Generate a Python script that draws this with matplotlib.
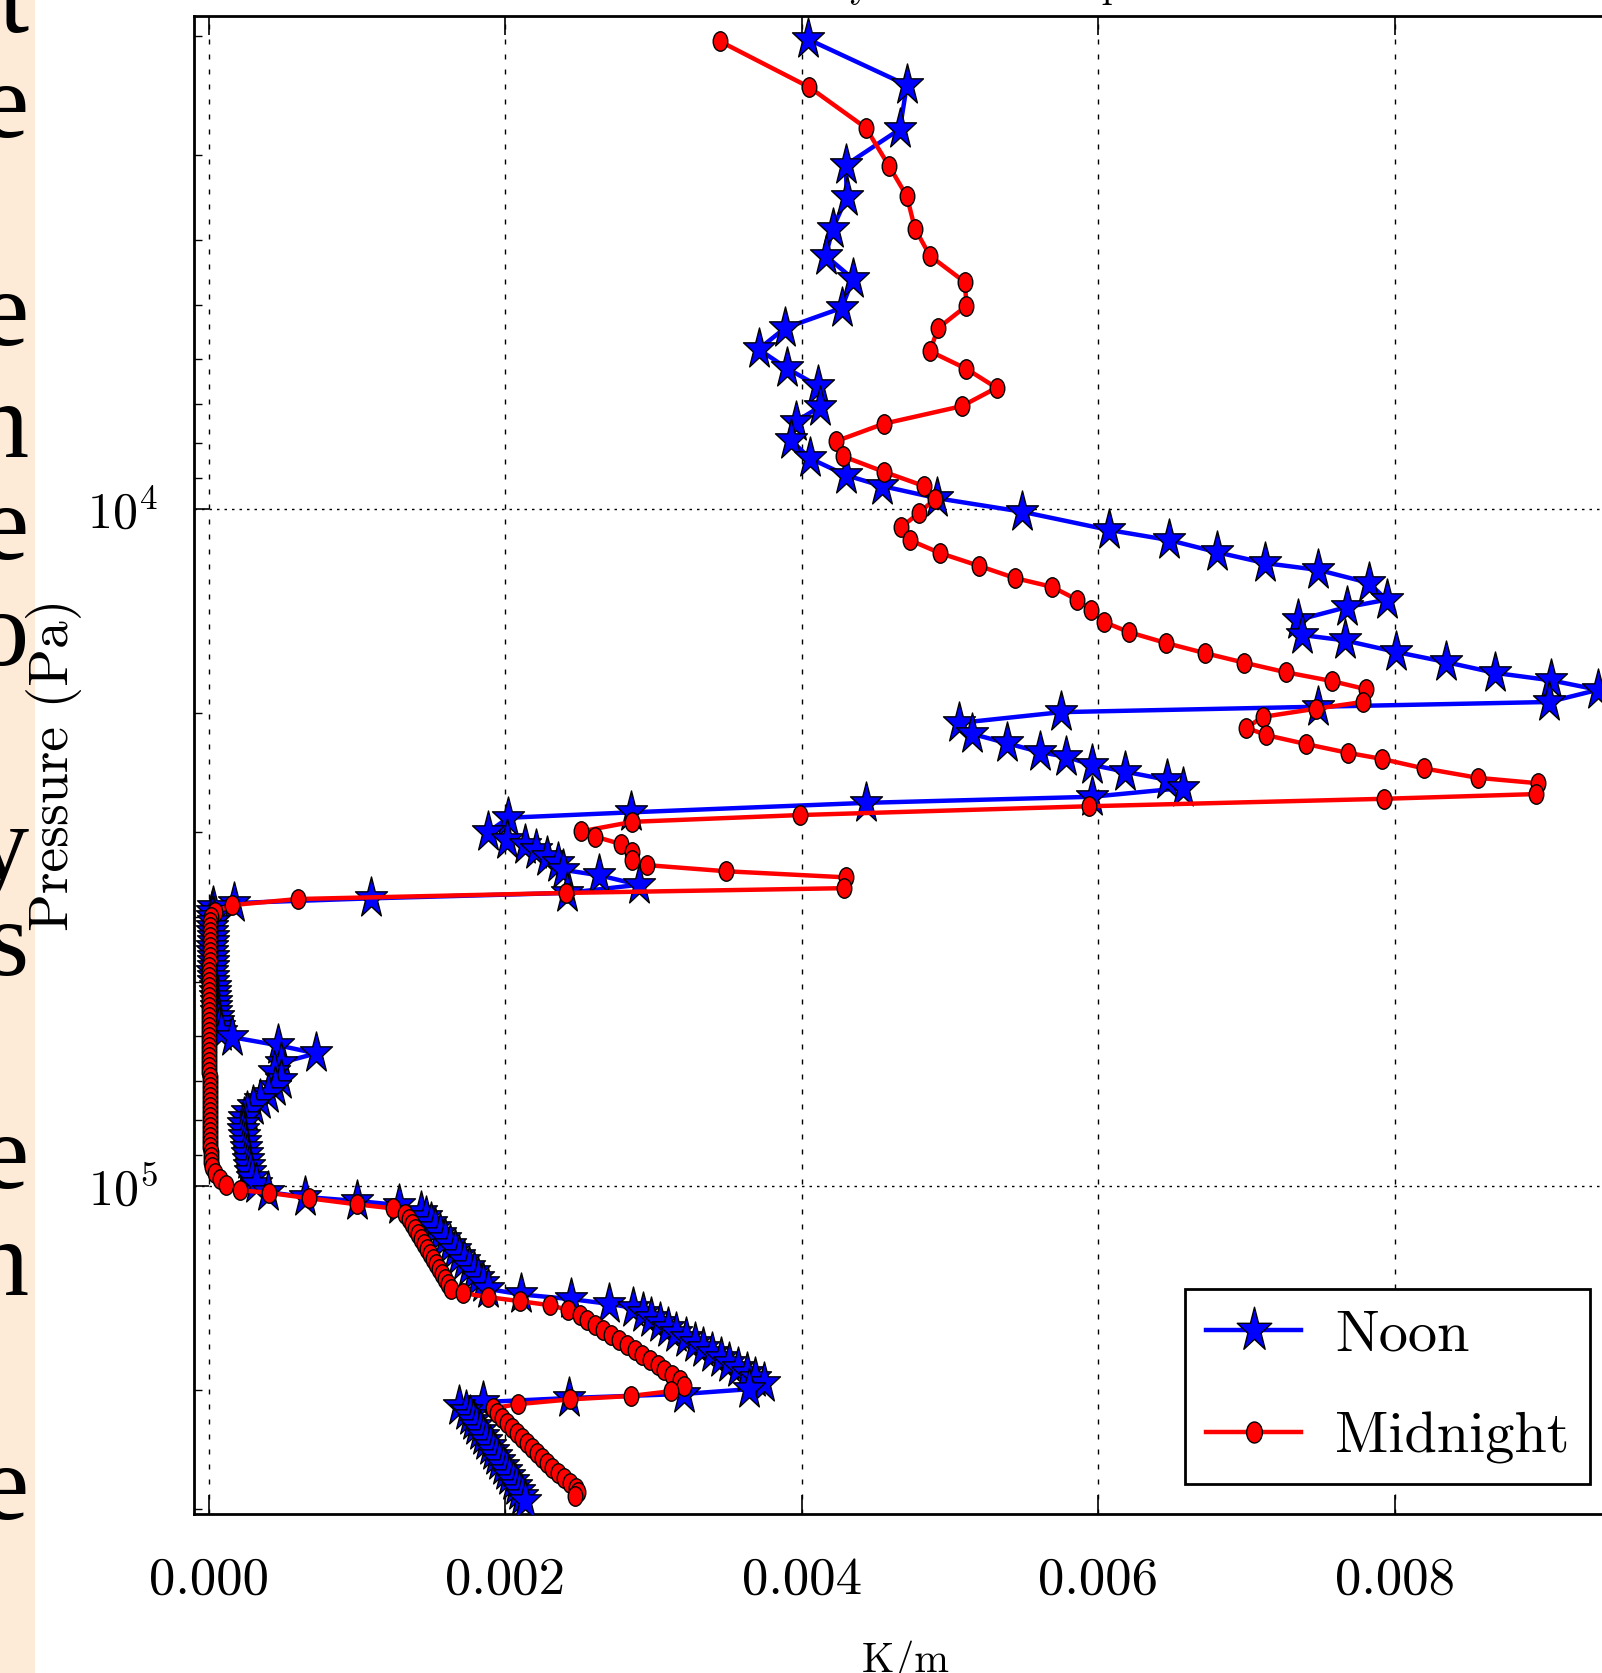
import matplotlib
matplotlib.use("Agg")
import matplotlib.pyplot as plt
import numpy as np
from matplotlib.patches import Rectangle
from matplotlib.path import Path
from matplotlib.ticker import FixedLocator, FormatStrFormatter, LogLocator, NullFormatter

plt.rcParams["font.family"] = "cmr10"
plt.rcParams["font.serif"] = ["Liberation Serif", "DejaVu Serif"]
plt.rcParams["mathtext.fontset"] = "cm"
plt.rcParams["axes.formatter.use_mathtext"] = True

# ---- data (x in K/m, pressure stored as log10(Pa)) ----
noon_x_upper = [
    0.004041, 0.004709, 0.004662, 0.004297, 0.004304, 0.004209, 0.004162, 0.004345, 0.004270, 0.003885,
    0.003709, 0.003899, 0.004108, 0.004122, 0.003959, 0.003926, 0.004054, 0.004297, 0.004541, 0.004912,
    0.005486, 0.006074, 0.006480, 0.006804, 0.007128, 0.007486, 0.007824, 0.007946, 0.007676, 0.007345,
    0.007372, 0.007662, 0.008007, 0.008345, 0.008676, 0.009054, 0.009372, 0.009041, 0.007480, 0.005750,
    0.005061, 0.005149, 0.005385, 0.005608, 0.005784, 0.005959, 0.006182, 0.006466, 0.006574, 0.005959,
    0.004432, 0.002845, 0.002020, 0.001885, 0.002014, 0.002135, 0.002209, 0.002284, 0.002358, 0.002392,
    0.002635, 0.002899, 0.002419, 0.001095, 0.000169, 0.000027,
]
noon_logp_upper = [
    3.306, 3.374, 3.439, 3.492, 3.539, 3.586, 3.626, 3.660, 3.703, 3.733,
    3.764, 3.792, 3.818, 3.849, 3.871, 3.898, 3.925, 3.950, 3.966, 3.984,
    4.004, 4.031, 4.046, 4.064, 4.080, 4.090, 4.109, 4.134, 4.145, 4.164,
    4.186, 4.194, 4.211, 4.226, 4.242, 4.253, 4.267, 4.285, 4.292, 4.300,
    4.316, 4.332, 4.346, 4.359, 4.366, 4.378, 4.388, 4.400, 4.412, 4.425,
    4.434, 4.448, 4.456, 4.477, 4.489, 4.496, 4.504, 4.514, 4.523, 4.533,
    4.541, 4.555, 4.567, 4.575, 4.582, 4.588,
]
noon_x_lower = [
    0.00002, 0.00002, 0.00003, 0.00002, 0.00002, 0.00003, 0.00003, 0.00002, 0.00002, 0.00003,
    0.00003, 0.00003, 0.00002, 0.00003, 0.00003, 0.00004, 0.00004, 0.00004, 0.00005, 0.00005,
    0.00005, 0.00006, 0.00006, 0.00007, 0.00008,
    0.000155, 0.000466, 0.000723, 0.000486, 0.000439, 0.000486, 0.000446, 0.000399, 0.000345, 0.000297,
    0.000257, 0.000236, 0.000230, 0.000230, 0.000236, 0.000243, 0.000250, 0.000257, 0.000264, 0.000270,
    0.000277, 0.000291, 0.000318, 0.000399, 0.000649, 0.001000, 0.001284,
    0.001432, 0.001466, 0.001500, 0.001527, 0.001561, 0.001595, 0.001628, 0.001662, 0.001689, 0.001723,
    0.001757, 0.001791, 0.001818, 0.001851, 0.001885,
    0.002108, 0.002446, 0.002703, 0.002865,
    0.002926, 0.002980, 0.003041, 0.003101, 0.003155, 0.003216, 0.003277, 0.003331, 0.003392, 0.003453,
    0.003507, 0.003568, 0.003628, 0.003682, 0.003743,
    0.003642, 0.003203, 0.002432, 0.001851, 0.001689,
    0.001736, 0.001763, 0.001784, 0.001804, 0.001831, 0.001851, 0.001872, 0.001899, 0.001919, 0.001939,
    0.001959, 0.001986, 0.002007, 0.002027, 0.002054, 0.002074, 0.002095, 0.002115, 0.002135,
]
noon_logp_lower = [
    4.595, 4.603, 4.610, 4.617, 4.625, 4.632, 4.640, 4.647, 4.654, 4.662,
    4.669, 4.677, 4.684, 4.691, 4.699, 4.706, 4.713, 4.721, 4.728, 4.736,
    4.743, 4.750, 4.758, 4.765, 4.773,
    4.780, 4.792, 4.804, 4.818, 4.832, 4.843, 4.854, 4.864, 4.873, 4.882,
    4.891, 4.900, 4.908, 4.917, 4.926, 4.935, 4.944, 4.953, 4.962, 4.970,
    4.979, 4.988, 4.997, 5.009, 5.016, 5.022, 5.028,
    5.038, 5.046, 5.055, 5.062, 5.071, 5.078, 5.087, 5.095, 5.103, 5.111,
    5.120, 5.127, 5.136, 5.143, 5.152,
    5.160, 5.167, 5.174, 5.180,
    5.188, 5.195, 5.202, 5.210, 5.217, 5.225, 5.232, 5.239, 5.247, 5.254,
    5.261, 5.269, 5.276, 5.284, 5.291,
    5.300, 5.307, 5.313, 5.319, 5.325,
    5.332, 5.340, 5.347, 5.355, 5.362, 5.369, 5.377, 5.384, 5.391, 5.399,
    5.406, 5.414, 5.421, 5.428, 5.436, 5.443, 5.451, 5.458, 5.465,
]

mid_x_upper = [
    0.003446, 0.004051, 0.004432, 0.004588, 0.004709, 0.004764, 0.004865, 0.005101, 0.005111, 0.004919,
    0.004865, 0.005111, 0.005314, 0.005081, 0.004554, 0.004230, 0.004277, 0.004554, 0.004824, 0.004899,
    0.004791, 0.004669, 0.004730, 0.004932, 0.005196, 0.005439, 0.005689, 0.005858, 0.005953, 0.006041,
    0.006209, 0.006459, 0.006723, 0.006986, 0.007264, 0.007574, 0.007804, 0.007784, 0.007466, 0.007111,
    0.007000, 0.007135, 0.007399, 0.007682, 0.007912, 0.008196, 0.008561, 0.008966, 0.008953, 0.007926,
    0.005939, 0.003986, 0.002858, 0.002514, 0.002608, 0.002784, 0.002858, 0.002858, 0.002959, 0.003490,
    0.004297, 0.004284, 0.002412, 0.000601, 0.000155, 0.000041,
]
mid_logp_upper = [
    3.309, 3.377, 3.437, 3.493, 3.538, 3.586, 3.626, 3.665, 3.700, 3.733,
    3.767, 3.793, 3.821, 3.848, 3.874, 3.900, 3.922, 3.945, 3.966, 3.985,
    4.006, 4.027, 4.046, 4.065, 4.084, 4.102, 4.115, 4.134, 4.149, 4.167,
    4.182, 4.198, 4.213, 4.227, 4.241, 4.254, 4.266, 4.285, 4.295, 4.307,
    4.323, 4.334, 4.347, 4.360, 4.369, 4.383, 4.397, 4.405, 4.421, 4.428,
    4.439, 4.452, 4.462, 4.476, 4.484, 4.495, 4.507, 4.518, 4.526, 4.535,
    4.544, 4.560, 4.567, 4.576, 4.585, 4.595,
]
mid_x_lower = [
    0.000012, 0.000010, 0.000008, 0.000008, 0.000007, 0.000006, 0.000006, 0.000005, 0.000005, 0.000005,
    0.000004, 0.000004, 0.000004, 0.000003, 0.000003, 0.000003, 0.000003, 0.000003, 0.000003, 0.000003,
    0.000003, 0.000003, 0.000003, 0.000003, 0.000003, 0.000003, 0.000004, 0.000004, 0.000004, 0.000004,
    0.000004, 0.000004, 0.000005, 0.000005, 0.000005, 0.000005, 0.000006, 0.000006, 0.000006, 0.000007,
    0.000007, 0.000008, 0.000008, 0.000009, 0.000009, 0.000010, 0.000011, 0.000012, 0.000014, 0.000016,
    0.000020, 0.000041, 0.000074, 0.000115, 0.000209, 0.000405, 0.000676, 0.001000, 0.001243, 0.001324,
    0.001351, 0.001372, 0.001392, 0.001412, 0.001432, 0.001453, 0.001473, 0.001493, 0.001514, 0.001534,
    0.001554, 0.001574, 0.001595, 0.001615, 0.001635,
    0.001716, 0.001885, 0.002101, 0.002304, 0.002426, 0.002507,
    0.002554, 0.002608, 0.002662, 0.002716, 0.002764, 0.002818, 0.002872, 0.002919, 0.002973, 0.003027,
    0.003074, 0.003128, 0.003182,
    0.003203, 0.003115, 0.002845, 0.002439, 0.002088, 0.001919,
    0.001946, 0.001980, 0.002014, 0.002047, 0.002081, 0.002115, 0.002149, 0.002182, 0.002216, 0.002250,
    0.002284, 0.002318, 0.002358, 0.002399, 0.002439, 0.002480, 0.002493, 0.002473,
]
mid_logp_lower = [
    4.603, 4.610, 4.617, 4.625, 4.632, 4.640, 4.647, 4.654, 4.662, 4.669,
    4.677, 4.684, 4.691, 4.699, 4.706, 4.713, 4.721, 4.728, 4.736, 4.743,
    4.750, 4.758, 4.765, 4.773, 4.780, 4.787, 4.795, 4.802, 4.809, 4.817,
    4.824, 4.832, 4.839, 4.846, 4.854, 4.861, 4.869, 4.876, 4.883, 4.891,
    4.898, 4.905, 4.913, 4.920, 4.928, 4.935, 4.942, 4.950, 4.957, 4.965,
    4.972, 4.981, 4.990, 4.999, 5.006, 5.010, 5.018, 5.027, 5.033, 5.041,
    5.049, 5.056, 5.064, 5.071, 5.078, 5.086, 5.093, 5.100, 5.108, 5.115,
    5.123, 5.130, 5.137, 5.145, 5.152,
    5.158, 5.164, 5.170, 5.176, 5.183, 5.191,
    5.198, 5.205, 5.213, 5.220, 5.227, 5.235, 5.242, 5.250, 5.257, 5.264,
    5.272, 5.279, 5.287,
    5.295, 5.303, 5.310, 5.315, 5.322, 5.328,
    5.335, 5.343, 5.350, 5.357, 5.365, 5.372, 5.380, 5.387, 5.394, 5.402,
    5.409, 5.417, 5.424, 5.431, 5.439, 5.446, 5.452, 5.458,
]

x_ticks = [0.0, 0.002, 0.004, 0.006, 0.008]
series_labels = ["Noon", "Midnight"]
title_text = "Static stability of the atmosphere"
# last letters of the slide text that is cut off on the left
strip_letters = ["t", "e", "e", "n", "e", "o", "y", "s", "e", "n", "e"]
strip_baselines_px = [32, 137, 345, 457, 559, 665, 879, 975, 1188, 1295, 1519]

noon_x = np.array(noon_x_upper + noon_x_lower)
noon_p = 10 ** np.array(noon_logp_upper + noon_logp_lower)
mid_x = np.array(mid_x_upper + mid_x_lower)
mid_p = 10 ** np.array(mid_logp_upper + mid_logp_lower)


def squeezed(path, sx):
    # the original figure was squashed sideways, so the markers are too
    return Path(path.vertices * np.array([sx, 1.0]), path.codes)


star = squeezed(Path.unit_regular_star(5, 0.381966), 0.78)
dot = squeezed(Path.unit_circle(), 0.75)

W, H = 1602, 1673
fig = plt.figure(figsize=(W / 100, H / 100), dpi=100)
fig.add_artist(Rectangle((0, 0), 35 / W, 1, transform=fig.transFigure,
                         facecolor="#fdebd8", edgecolor="none", zorder=0))
for ch, base in zip(strip_letters, strip_baselines_px):
    fig.text(29 / W, 1 - base / H, ch, ha="right", va="baseline", fontsize=78,
             family="serif", color="black")

ax = fig.add_axes([194 / W, 1 - 1514 / H, (1617 - 194) / W, (1514 - 16) / H])

ax.plot(noon_x, noon_p, color="blue", lw=3.2, marker=star, ms=31,
        mfc="blue", mec="black", mew=1.0, label=series_labels[0], zorder=3)
ax.plot(mid_x, mid_p, color="red", lw=3.2, marker=dot, ms=14,
        mfc="red", mec="black", mew=1.0, label=series_labels[1], zorder=4)

ax.set_yscale("log")
ax.set_xlim(-0.0001, 0.0095)
ax.set_ylim(3.05e5, 1.87e3)

ax.xaxis.set_major_locator(FixedLocator(x_ticks))
ax.xaxis.set_major_formatter(FormatStrFormatter("%.3f"))
ax.yaxis.set_major_locator(LogLocator(base=10))
ax.yaxis.set_minor_locator(LogLocator(base=10, subs=np.arange(2, 10)))
ax.yaxis.set_minor_formatter(NullFormatter())

ax.tick_params(direction="in", top=True, right=True, which="both")
ax.tick_params(axis="x", which="major", length=14, width=1.2, pad=31, labelsize=38)
ax.tick_params(axis="y", which="major", length=11, width=1.2, pad=26, labelsize=36)
ax.tick_params(axis="y", which="minor", length=6, width=1.0)
for sp in ax.spines.values():
    sp.set_linewidth(2)

ax.xaxis.grid(True, which="major", color="black", lw=1.0, ls=(0, (3.6, 7.2)))
ax.yaxis.grid(True, which="major", color="black", lw=1.0, ls=(0, (1.8, 3.6)))
ax.set_axisbelow(True)

ax.set_ylabel("Pressure (Pa)", fontsize=40, va="center")
ax.yaxis.set_label_coords((54 - 194) / 1423, 0.5)
ax.set_xlabel("K/m", fontsize=30, va="baseline")
ax.xaxis.set_label_coords(0.5, (1514 - 1672) / 1498)

leg = ax.legend(loc="lower right", bbox_to_anchor=((1590 - 194) / 1423, (1514 - 1484) / 1498),
                borderaxespad=0, fontsize=42, handlelength=1.64, handletextpad=0.58,
                borderpad=0.35, labelspacing=0.85, fancybox=False, framealpha=1,
                edgecolor="black", markerscale=1.08, numpoints=1)
leg.get_frame().set_linewidth(2)

fig.text(905.5 / W, 1 + 2.7 / H, title_text, ha="center", va="baseline", fontsize=28.6)

fig.savefig("out.png", dpi=100)
